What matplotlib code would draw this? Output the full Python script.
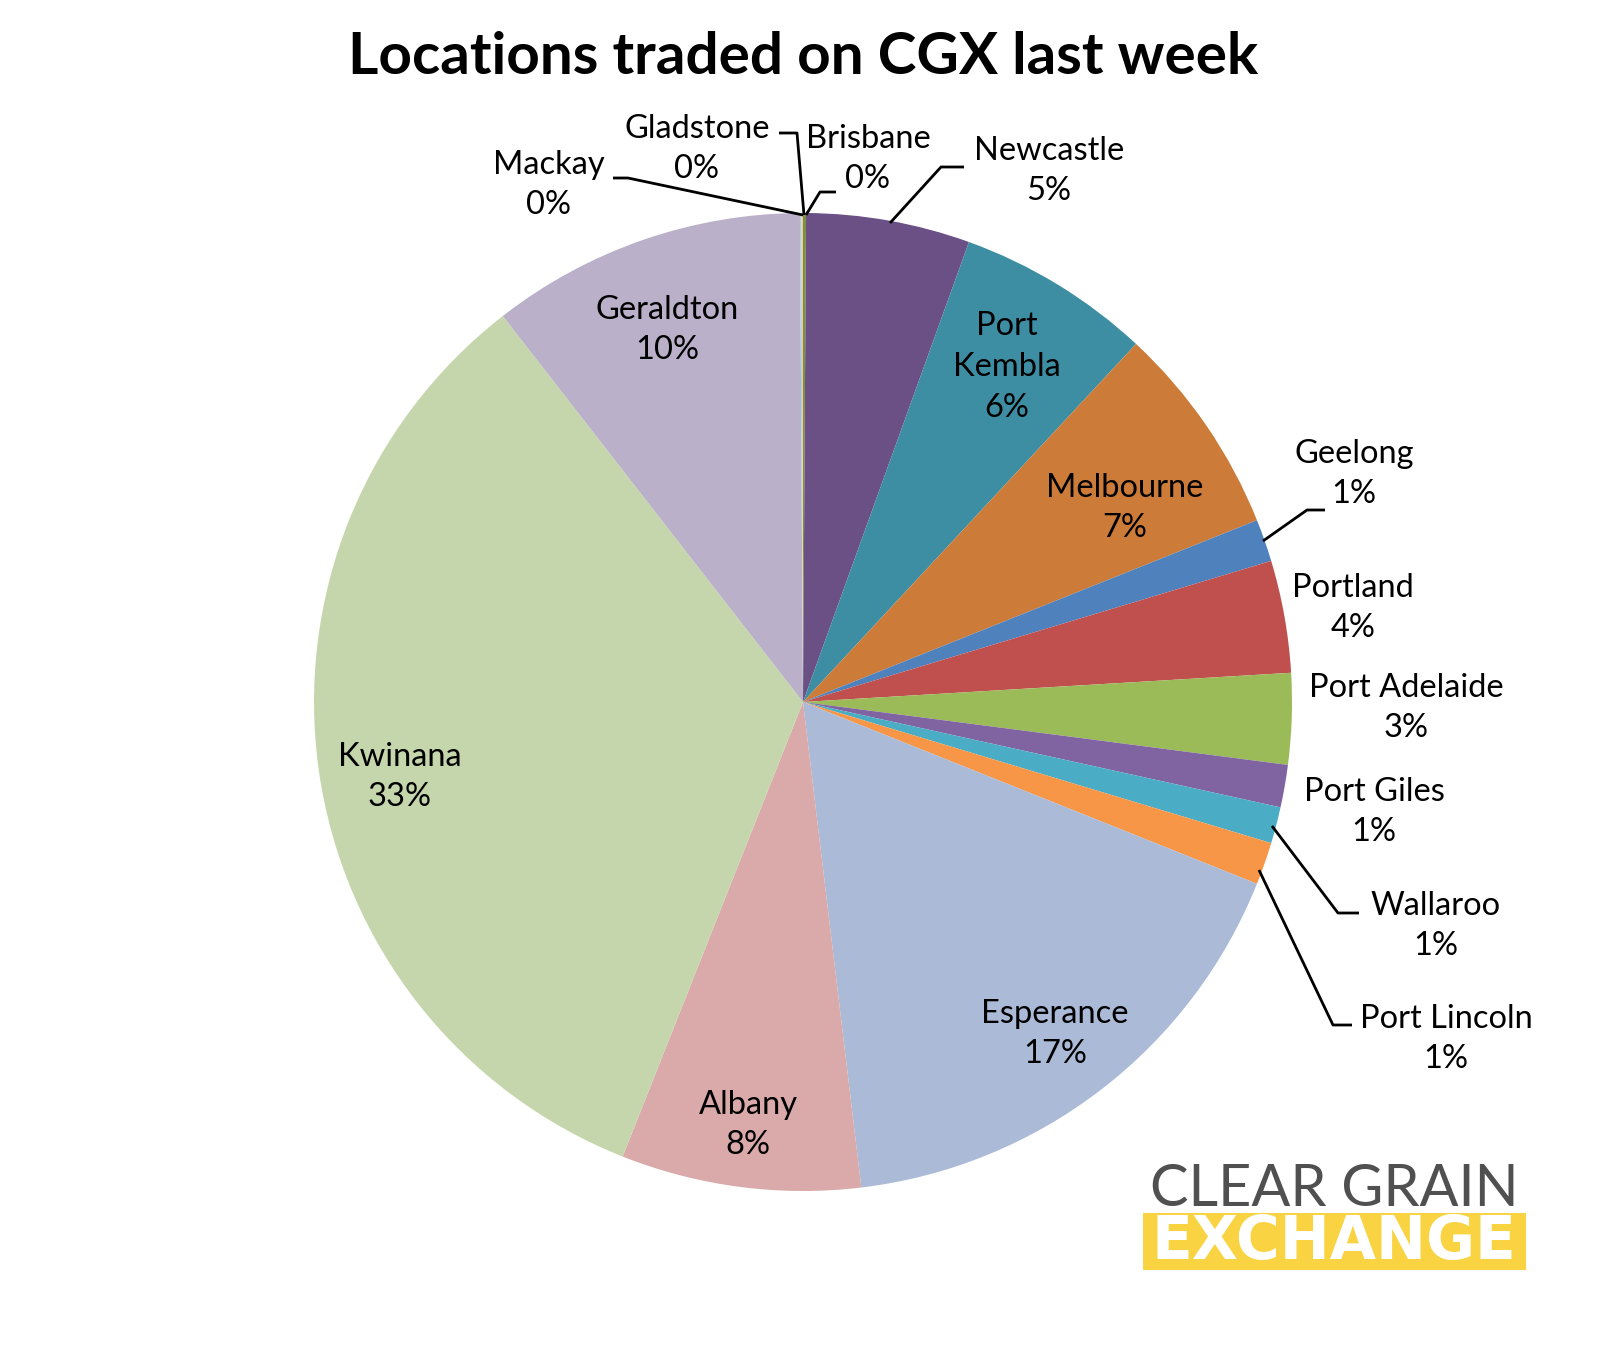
import matplotlib
matplotlib.use("Agg")
import matplotlib.pyplot as plt
from matplotlib.patches import Rectangle

W, H = 1608, 1351

# data, clockwise from 12 o'clock
locations = ["Brisbane", "Newcastle", "Port\nKembla", "Melbourne", "Geelong", "Portland",
             "Port Adelaide", "Port Giles", "Wallaroo", "Port Lincoln", "Esperance",
             "Albany", "Kwinana", "Geraldton", "Mackay", "Gladstone"]
shares = [0.1, 5.4, 6.4, 7.0, 1.4, 3.7, 3.0, 1.4, 1.2, 1.4, 17.0, 7.9, 33.4, 10.4, 0.05, 0.05]
colors = ["#77933C", "#6A5085", "#3D8DA3", "#CD7B38", "#4F81BD", "#C0504D",
          "#9BBB59", "#8064A2", "#4BACC6", "#F79646", "#AABAD7", "#D9AAA9",
          "#C6D6AC", "#BAB0C9", "#A5D1DE", "#F9C09F"]

# label centres in image pixels (x, y from top)
label_pos = {
    "Brisbane": (868, 159), "Newcastle": (1049, 171), "Port\nKembla": (1007, 367),
    "Melbourne": (1125, 508), "Geelong": (1354, 474), "Portland": (1353, 608),
    "Port Adelaide": (1406, 708), "Port Giles": (1374, 812), "Wallaroo": (1436, 926),
    "Port Lincoln": (1446, 1039), "Esperance": (1055, 1034), "Albany": (748, 1125),
    "Kwinana": (400, 777), "Geraldton": (667, 330), "Mackay": (549, 185),
    "Gladstone": (697, 149),
}
leaders = [
    [(890, 223), (941, 167), (964, 167)],
    [(804, 215), (797, 133), (779, 133)],
    [(806, 215), (820, 192), (836, 192)],
    [(803, 215), (628, 178), (613, 178)],
    [(1263, 541), (1307, 510), (1325, 510)],
    [(1272, 826), (1338, 913), (1359, 913)],
    [(1259, 870), (1333, 1025), (1352, 1025)],
]


def fy(y):
    return H - y


plt.rcParams['font.family'] = ['Lato', 'DejaVu Sans']
fig = plt.figure(figsize=(W / 100, H / 100), dpi=100)
ax = fig.add_axes([0, 0, 1, 1])

ax.pie(shares, colors=colors, startangle=90, counterclock=False,
       center=(803, fy(702)), radius=489, wedgeprops=dict(linewidth=0))
ax.set_xlim(0, W)
ax.set_ylim(0, H)
ax.set_aspect('equal')
ax.axis('off')

total = sum(shares)
for name, v in zip(locations, shares):
    x, y = label_pos[name]
    ax.text(x, fy(y), f"{name}\n{round(v / total * 100):.0f}%", ha='center', va='center',
            fontsize=23.5, linespacing=1.45, color='black')

for pts in leaders:
    ax.plot([p[0] for p in pts], [fy(p[1]) for p in pts], color='black', lw=2,
            solid_capstyle='butt')

ax.text(803, fy(58), "Locations traded on CGX last week", ha='center', va='center',
        fontsize=42, fontweight='bold')

# logo
ax.text(1334, fy(1189), "CLEAR GRAIN", ha='center', va='center', fontsize=41.5,
        color='#505050')
ax.add_patch(Rectangle((1143, fy(1270)), 383, 57, color='#F9D342', lw=0))
ax.text(1334, fy(1242), "EXCHANGE", ha='center', va='center', fontsize=43,
        fontweight='bold', family='DejaVu Sans', color='white')

fig.savefig("out.png", dpi=100)
